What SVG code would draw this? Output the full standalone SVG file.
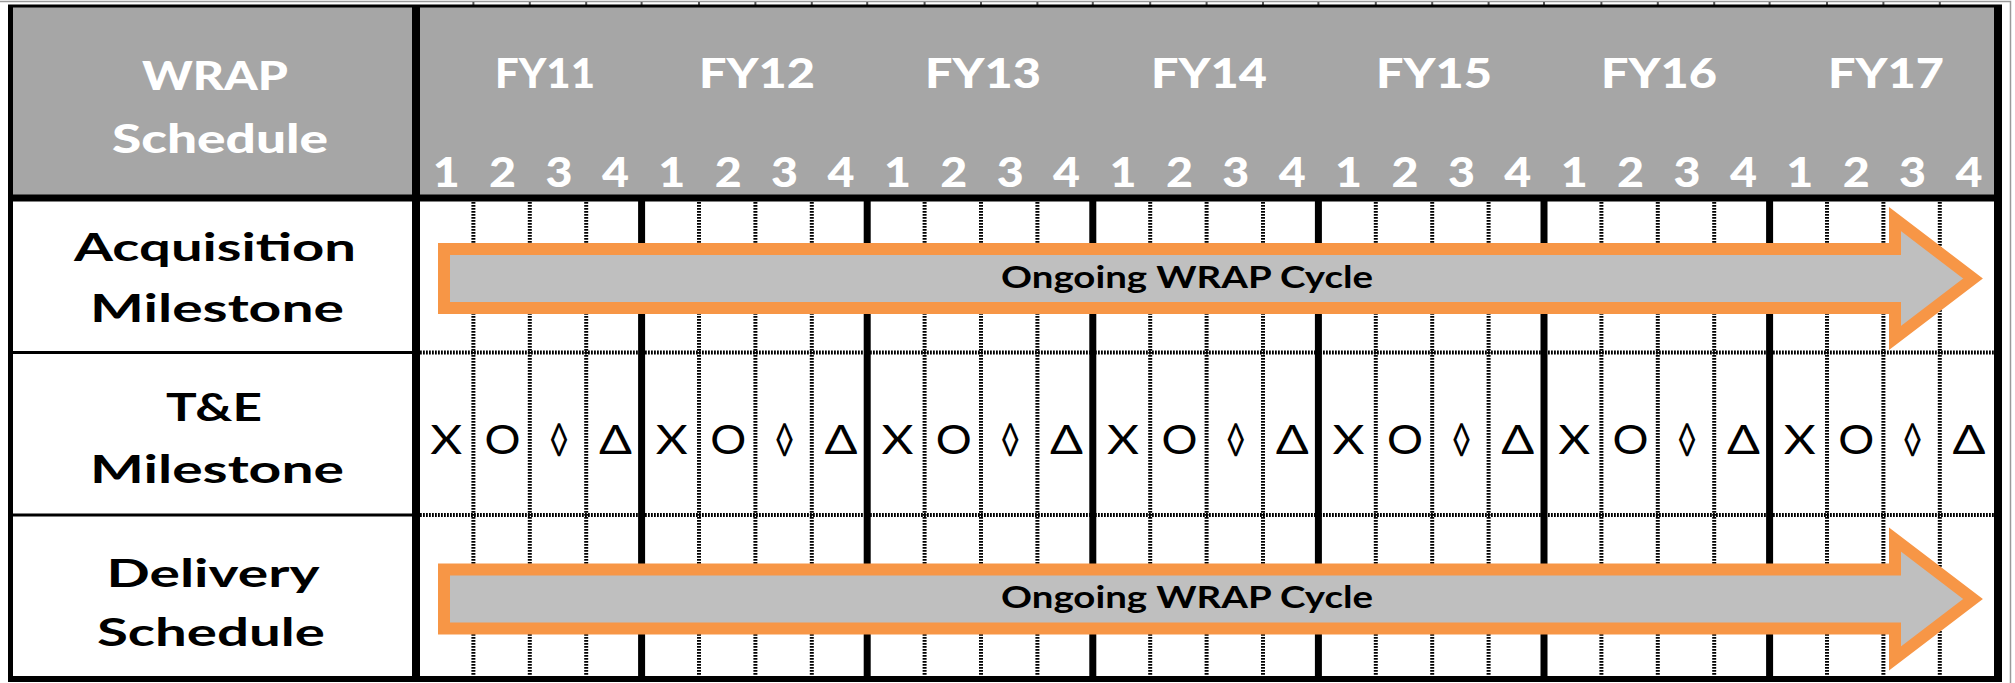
<svg xmlns="http://www.w3.org/2000/svg" width="2015" height="683" viewBox="0 0 2015 683">
<style>
.hdr{font-family:Lato,"Liberation Sans",sans-serif;font-weight:900;fill:#fff;font-size:41px;text-anchor:middle}
.hl{font-family:Lato,"Liberation Sans",sans-serif;font-weight:900;fill:#fff;font-size:39px;text-anchor:middle}
.lbl{font-family:Lato,"Liberation Sans",sans-serif;font-weight:bold;fill:#000;font-size:39px;text-anchor:middle}
.sym{font-family:Lato,"DejaVu Sans",sans-serif;font-size:40px;fill:#000;text-anchor:middle}
.atext{font-family:Lato,"Liberation Sans",sans-serif;font-weight:bold;font-size:31px;fill:#000;text-anchor:middle}
.arrow{fill:#bfbfbf;stroke:#f79646;stroke-width:12;stroke-linejoin:miter;stroke-miterlimit:10}
.hatch{fill:none;stroke:#000;stroke-width:4;stroke-dasharray:1.8 1.2}
.tick{fill:none;stroke:#555;stroke-width:2}
.solid{fill:none;stroke:#000;stroke-width:3}
.thick{fill:none;stroke:#000;stroke-width:7}
.frame{fill:none;stroke:#9a9a9a;stroke-width:1.5}
</style>
<rect x="0" y="0" width="2015" height="683" fill="#fff"/>
<g id="frame">
<path class="frame" d="M0,1.5H2010.5V683"/>
<path class="tick" d="M473.4,2V5M529.8,2V5M586.2,2V5M641.6,2V5M699,2V5M755.4,2V5M811.8,2V5M867.2,2V5M924.6,2V5M981,2V5M1037.4,2V5M1092.8,2V5M1150.2,2V5M1206.6,2V5M1263,2V5M1318.4,2V5M1375.8,2V5M1432.2,2V5M1488.6,2V5M1544,2V5M1601.4,2V5M1657.8,2V5M1714.2,2V5M1769.6,2V5M1827,2V5M1883.4,2V5M1939.8,2V5"/>
</g>
<g id="header">
<rect x="12" y="7" width="1983" height="189" fill="#a6a6a6"/>
<g id="header-label">
<text class="hl" x="215" y="90" textLength="146" lengthAdjust="spacingAndGlyphs">WRAP</text>
<text class="hl" x="220" y="153" textLength="216" lengthAdjust="spacingAndGlyphs">Schedule</text>
</g>
<g id="years">
<text class="hdr" x="545" y="88" textLength="100" lengthAdjust="spacingAndGlyphs">FY11</text>
<text class="hdr" x="757" y="88" textLength="116" lengthAdjust="spacingAndGlyphs">FY12</text>
<text class="hdr" x="983" y="88" textLength="116" lengthAdjust="spacingAndGlyphs">FY13</text>
<text class="hdr" x="1209" y="88" textLength="116" lengthAdjust="spacingAndGlyphs">FY14</text>
<text class="hdr" x="1434" y="88" textLength="116" lengthAdjust="spacingAndGlyphs">FY15</text>
<text class="hdr" x="1659" y="88" textLength="116" lengthAdjust="spacingAndGlyphs">FY16</text>
<text class="hdr" x="1886" y="88" textLength="116" lengthAdjust="spacingAndGlyphs">FY17</text>
</g>
<g id="quarters">
<text class="hdr" x="446.2" y="187" textLength="27" lengthAdjust="spacingAndGlyphs">1</text>
<text class="hdr" x="502.6" y="187" textLength="27" lengthAdjust="spacingAndGlyphs">2</text>
<text class="hdr" x="559" y="187" textLength="27" lengthAdjust="spacingAndGlyphs">3</text>
<text class="hdr" x="615.4" y="187" textLength="27" lengthAdjust="spacingAndGlyphs">4</text>
<text class="hdr" x="671.8" y="187" textLength="27" lengthAdjust="spacingAndGlyphs">1</text>
<text class="hdr" x="728.2" y="187" textLength="27" lengthAdjust="spacingAndGlyphs">2</text>
<text class="hdr" x="784.6" y="187" textLength="27" lengthAdjust="spacingAndGlyphs">3</text>
<text class="hdr" x="841" y="187" textLength="27" lengthAdjust="spacingAndGlyphs">4</text>
<text class="hdr" x="897.4" y="187" textLength="27" lengthAdjust="spacingAndGlyphs">1</text>
<text class="hdr" x="953.8" y="187" textLength="27" lengthAdjust="spacingAndGlyphs">2</text>
<text class="hdr" x="1010.2" y="187" textLength="27" lengthAdjust="spacingAndGlyphs">3</text>
<text class="hdr" x="1066.6" y="187" textLength="27" lengthAdjust="spacingAndGlyphs">4</text>
<text class="hdr" x="1123" y="187" textLength="27" lengthAdjust="spacingAndGlyphs">1</text>
<text class="hdr" x="1179.4" y="187" textLength="27" lengthAdjust="spacingAndGlyphs">2</text>
<text class="hdr" x="1235.8" y="187" textLength="27" lengthAdjust="spacingAndGlyphs">3</text>
<text class="hdr" x="1292.2" y="187" textLength="27" lengthAdjust="spacingAndGlyphs">4</text>
<text class="hdr" x="1348.6" y="187" textLength="27" lengthAdjust="spacingAndGlyphs">1</text>
<text class="hdr" x="1405" y="187" textLength="27" lengthAdjust="spacingAndGlyphs">2</text>
<text class="hdr" x="1461.4" y="187" textLength="27" lengthAdjust="spacingAndGlyphs">3</text>
<text class="hdr" x="1517.8" y="187" textLength="27" lengthAdjust="spacingAndGlyphs">4</text>
<text class="hdr" x="1574.2" y="187" textLength="27" lengthAdjust="spacingAndGlyphs">1</text>
<text class="hdr" x="1630.6" y="187" textLength="27" lengthAdjust="spacingAndGlyphs">2</text>
<text class="hdr" x="1687" y="187" textLength="27" lengthAdjust="spacingAndGlyphs">3</text>
<text class="hdr" x="1743.4" y="187" textLength="27" lengthAdjust="spacingAndGlyphs">4</text>
<text class="hdr" x="1799.8" y="187" textLength="27" lengthAdjust="spacingAndGlyphs">1</text>
<text class="hdr" x="1856.2" y="187" textLength="27" lengthAdjust="spacingAndGlyphs">2</text>
<text class="hdr" x="1912.6" y="187" textLength="27" lengthAdjust="spacingAndGlyphs">3</text>
<text class="hdr" x="1969" y="187" textLength="27" lengthAdjust="spacingAndGlyphs">4</text>
</g>
</g>
<g id="grid">
<path class="hatch" d="M473.4,202V676M529.8,202V676M586.2,202V676M699,202V676M755.4,202V676M811.8,202V676M924.6,202V676M981,202V676M1037.4,202V676M1150.2,202V676M1206.6,202V676M1263,202V676M1375.8,202V676M1432.2,202V676M1488.6,202V676M1601.4,202V676M1657.8,202V676M1714.2,202V676M1827,202V676M1883.4,202V676M1939.8,202V676"/>
<path class="hatch" d="M420,352.5H1994M420,515H1994"/>
<path class="solid" d="M12,352.5H412M12,515H412"/>
<path class="thick" d="M641.6,198V679M867.2,198V679M1092.8,198V679M1318.4,198V679M1544,198V679M1769.6,198V679"/>
</g>
<g id="row-acquisition">
<text class="lbl" x="215" y="261" textLength="282" lengthAdjust="spacingAndGlyphs">Acquisition</text>
<text class="lbl" x="217" y="322" textLength="254" lengthAdjust="spacingAndGlyphs">Milestone</text>
<path class="arrow" d="M444,249H1895V219.1L1973,278.5L1895,337.9V308H444Z"/>
<text class="atext" x="1187" y="288" textLength="372" lengthAdjust="spacingAndGlyphs">Ongoing WRAP Cycle</text>
</g>
<g id="row-te">
<text class="lbl" x="214" y="421" textLength="96" lengthAdjust="spacingAndGlyphs">T&amp;E</text>
<text class="lbl" x="217" y="483" textLength="254" lengthAdjust="spacingAndGlyphs">Milestone</text>
<g id="te-symbols">
<text class="sym" x="446.2" y="454" textLength="32" lengthAdjust="spacingAndGlyphs">X</text>
<text class="sym" x="502.6" y="454" textLength="36" lengthAdjust="spacingAndGlyphs">O</text>
<text class="sym" x="559" y="454" textLength="20" lengthAdjust="spacingAndGlyphs">◊</text>
<text class="sym" x="615.4" y="454" textLength="33" lengthAdjust="spacingAndGlyphs">Δ</text>
<text class="sym" x="671.8" y="454" textLength="32" lengthAdjust="spacingAndGlyphs">X</text>
<text class="sym" x="728.2" y="454" textLength="36" lengthAdjust="spacingAndGlyphs">O</text>
<text class="sym" x="784.6" y="454" textLength="20" lengthAdjust="spacingAndGlyphs">◊</text>
<text class="sym" x="841" y="454" textLength="33" lengthAdjust="spacingAndGlyphs">Δ</text>
<text class="sym" x="897.4" y="454" textLength="32" lengthAdjust="spacingAndGlyphs">X</text>
<text class="sym" x="953.8" y="454" textLength="36" lengthAdjust="spacingAndGlyphs">O</text>
<text class="sym" x="1010.2" y="454" textLength="20" lengthAdjust="spacingAndGlyphs">◊</text>
<text class="sym" x="1066.6" y="454" textLength="33" lengthAdjust="spacingAndGlyphs">Δ</text>
<text class="sym" x="1123" y="454" textLength="32" lengthAdjust="spacingAndGlyphs">X</text>
<text class="sym" x="1179.4" y="454" textLength="36" lengthAdjust="spacingAndGlyphs">O</text>
<text class="sym" x="1235.8" y="454" textLength="20" lengthAdjust="spacingAndGlyphs">◊</text>
<text class="sym" x="1292.2" y="454" textLength="33" lengthAdjust="spacingAndGlyphs">Δ</text>
<text class="sym" x="1348.6" y="454" textLength="32" lengthAdjust="spacingAndGlyphs">X</text>
<text class="sym" x="1405" y="454" textLength="36" lengthAdjust="spacingAndGlyphs">O</text>
<text class="sym" x="1461.4" y="454" textLength="20" lengthAdjust="spacingAndGlyphs">◊</text>
<text class="sym" x="1517.8" y="454" textLength="33" lengthAdjust="spacingAndGlyphs">Δ</text>
<text class="sym" x="1574.2" y="454" textLength="32" lengthAdjust="spacingAndGlyphs">X</text>
<text class="sym" x="1630.6" y="454" textLength="36" lengthAdjust="spacingAndGlyphs">O</text>
<text class="sym" x="1687" y="454" textLength="20" lengthAdjust="spacingAndGlyphs">◊</text>
<text class="sym" x="1743.4" y="454" textLength="33" lengthAdjust="spacingAndGlyphs">Δ</text>
<text class="sym" x="1799.8" y="454" textLength="32" lengthAdjust="spacingAndGlyphs">X</text>
<text class="sym" x="1856.2" y="454" textLength="36" lengthAdjust="spacingAndGlyphs">O</text>
<text class="sym" x="1912.6" y="454" textLength="20" lengthAdjust="spacingAndGlyphs">◊</text>
<text class="sym" x="1969" y="454" textLength="33" lengthAdjust="spacingAndGlyphs">Δ</text>
</g>
</g>
<g id="row-delivery">
<text class="lbl" x="213" y="587" textLength="213" lengthAdjust="spacingAndGlyphs">Delivery</text>
<text class="lbl" x="211" y="646" textLength="228" lengthAdjust="spacingAndGlyphs">Schedule</text>
<path class="arrow" d="M444,569.5H1895V539.6L1973,599L1895,658.4V628.5H444Z"/>
<text class="atext" x="1187" y="608" textLength="372" lengthAdjust="spacingAndGlyphs">Ongoing WRAP Cycle</text>
</g>
<g id="borders">
<path class="thick" d="M8,198H2002"/>
<path fill="none" stroke="#000" stroke-width="8" d="M416,5V682"/>
<path fill="none" stroke="#000" stroke-width="5" d="M10.5,5V682"/>
<path fill="none" stroke="#000" stroke-width="3" d="M8,6H2002"/>
<path fill="none" stroke="#000" stroke-width="8" d="M1998,5V682"/>
<path fill="none" stroke="#000" stroke-width="6" d="M8,679H2002"/>
</g>
</svg>
